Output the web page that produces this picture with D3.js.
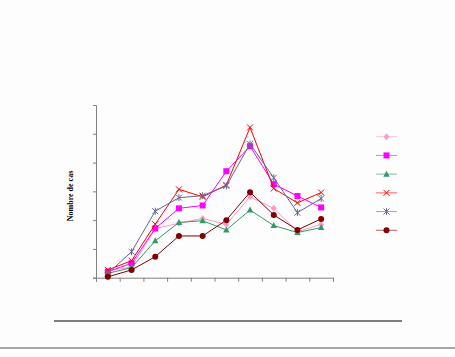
<!DOCTYPE html>
<html><head><meta charset="utf-8">
<script src="https://cdn.jsdelivr.net/npm/d3@7"></script>
<style>
html,body{margin:0;padding:0;background:#fdfdfd;}
svg{display:block;}
</style></head>
<body>
<script>
// Data (units: one y tick = 10)
const categories = ["1","2","3","4","5","6","7","8","9","10"];
const seriesNames = ["S1","S2","S3","S4","S5","S6"];
const pinkDiamond   = [2.3, 3.8, 17.1, 18.9, 20.6, 18.5, 28.1, 24.1, 16.0, 18.5];
const magentaSquare = [2.1, 5.0, 17.1, 24.1, 25.1, 37.0, 45.7, 32.5, 28.4, 24.4];
const greenTriangle = [1.5, 3.5, 12.8, 19.2, 19.8, 16.6, 23.5, 18.1, 15.7, 17.4];
const redCross      = [2.7, 5.9, 18.6, 30.7, 28.1, 32.2, 52.2, 31.0, 26.0, 29.6];
const slateStar     = [1.5, 9.0, 23.1, 27.8, 28.5, 31.9, 46.5, 34.7, 22.6, 27.5];
const darkRedCircle = [0.3, 2.7, 7.3, 14.5, 14.5, 20.0, 29.7, 21.8, 16.6, 20.4];
const yTickValues = [0,10,20,30,40,50,60];
const yTitle = "Nombre de cas";

const series = [
  {name: seriesNames[0], values: pinkDiamond,   color: "#ff99cc", marker: "diamond"},
  {name: seriesNames[1], values: magentaSquare, color: "#ff00ff", marker: "square"},
  {name: seriesNames[2], values: greenTriangle, color: "#339966", marker: "triangle"},
  {name: seriesNames[3], values: redCross,      color: "#ff0000", marker: "x"},
  {name: seriesNames[4], values: slateStar,     color: "#666699", marker: "star"},
  {name: seriesNames[5], values: darkRedCircle, color: "#800000", marker: "circle"}
];

const W = 455, H = 357;
const svg = d3.select("body").append("svg").attr("width", W).attr("height", H);

const x = d3.scaleBand().domain(categories).range([96, 333]).padding(0);
const y = d3.scaleLinear().domain([0, 60]).range([277.7, 105]);

// axes
const yAxis = d3.axisLeft(y).tickValues(yTickValues).tickFormat("").tickSize(3);
const gy = svg.append("g").attr("transform", "translate(96,0)").call(yAxis);
const xb = d3.scaleLinear().domain([0, categories.length]).range([96, 333]);
const xAxis = d3.axisBottom(xb).tickValues(d3.range(0, categories.length + 1)).tickFormat("").tickSize(4);
const gx = svg.append("g").attr("transform", "translate(0,277.7)").call(xAxis);
[gx, gy].forEach(g => {
  g.select(".domain").attr("stroke", "#808080");
  g.selectAll(".tick line").attr("stroke", "#808080");
});

svg.append("text")
  .attr("transform", "translate(72.5,196) rotate(-90)")
  .attr("text-anchor", "middle")
  .attr("font-family", "Liberation Serif, Times New Roman, serif")
  .attr("font-weight", "bold")
  .attr("font-size", 8)
  .attr("fill", "#000")
  .text(yTitle);

function drawMarker(g, type, color, cx, cy) {
  if (type === "diamond") {
    g.append("path").attr("d", `M${cx},${cy-3.5}L${cx+3},${cy}L${cx},${cy+3.5}L${cx-3},${cy}Z`).attr("fill", color);
  } else if (type === "square") {
    g.append("rect").attr("x", cx-3).attr("y", cy-3).attr("width", 6).attr("height", 6).attr("fill", color);
  } else if (type === "triangle") {
    g.append("path").attr("d", `M${cx},${cy-3.5}L${cx+3.2},${cy+2.5}L${cx-3.2},${cy+2.5}Z`).attr("fill", color);
  } else if (type === "x") {
    g.append("path").attr("d", `M${cx-3},${cy-3}L${cx+3},${cy+3}M${cx-3},${cy+3}L${cx+3},${cy-3}`).attr("stroke", color).attr("stroke-width", 1);
  } else if (type === "star") {
    g.append("path").attr("d", `M${cx-3},${cy-3}L${cx+3},${cy+3}M${cx-3},${cy+3}L${cx+3},${cy-3}M${cx},${cy-3.5}L${cx},${cy+3.5}`).attr("stroke", color).attr("stroke-width", 1);
  } else if (type === "circle") {
    g.append("circle").attr("cx", cx).attr("cy", cy).attr("r", 3).attr("fill", color);
  }
}

const line = d3.line().x((d, i) => x(categories[i]) + x.bandwidth() / 2).y(d => y(d));
series.forEach(s => {
  const g = svg.append("g");
  g.append("path").attr("d", line(s.values)).attr("fill", "none").attr("stroke", s.color).attr("stroke-width", 1);
  s.values.forEach((v, i) => drawMarker(g, s.marker, s.color, x(categories[i]) + x.bandwidth() / 2, y(v)));
});

// legend (no visible labels)
const legY = d3.scaleLinear().domain([0, 5]).range([136.7, 230.3]);
series.forEach((s, i) => {
  const g = svg.append("g");
  const ly = legY(i);
  g.append("line").attr("x1", 376).attr("x2", 397).attr("y1", ly).attr("y2", ly).attr("stroke", s.color).attr("stroke-width", 1).attr("opacity", 0.6);
  drawMarker(g, s.marker, s.color, 386.5, ly);
});

// footer rules
svg.append("line").attr("x1", 54).attr("x2", 402).attr("y1", 321).attr("y2", 321).attr("stroke", "#000").attr("stroke-width", 1.2);
svg.append("line").attr("x1", 0).attr("x2", W).attr("y1", 348).attr("y2", 348).attr("stroke", "#a8a8a8").attr("stroke-width", 2);
</script>
</body></html>
